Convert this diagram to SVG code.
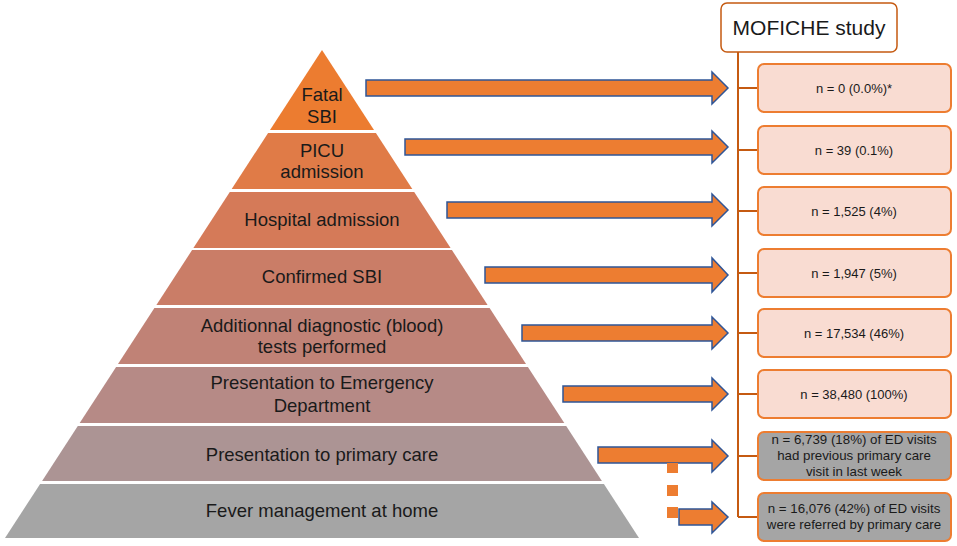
<svg xmlns="http://www.w3.org/2000/svg" width="957" height="546" viewBox="0 0 957 546">
<style>
.pt{font-family:"Liberation Sans",Arial,sans-serif;font-size:18.5px;fill:#1a1a1a;text-anchor:middle}
.bt{font-family:"Liberation Sans",Arial,sans-serif;font-size:13px;fill:#1a1a1a;text-anchor:middle}
.gt{font-family:"Liberation Sans",Arial,sans-serif;font-size:13.3px;fill:#1a1a1a;text-anchor:middle}
.arr{fill:#ED7D31;stroke:#2F5597;stroke-width:1.5;stroke-linejoin:miter}
.box{fill:#F9DCD2;stroke:#ED7D31;stroke-width:2}
.gbox{fill:#A5A5A5;stroke:#ED7D31;stroke-width:2}
.ln{stroke:#C55A11;stroke-width:2;fill:none}
.sq{fill:#ED7D31}
</style>
<rect width="957" height="546" fill="#ffffff"/>
<g id="pyramid">
<g id="l1"><polygon points="322,50 374,130 270,130" fill="#EC7C30"/><text class="pt" x="322" y="101">Fatal</text><text class="pt" x="322" y="123">SBI</text></g>
<g id="l2"><polygon points="268.1,133 375.9,133 412.3,189 231.7,189" fill="#E07B47"/><text class="pt" x="322" y="157">PICU</text><text class="pt" x="322" y="178">admission</text></g>
<g id="l3"><polygon points="229.8,192 414.2,192 450.6,248 193.4,248" fill="#D57A58"/><text class="pt" x="322" y="226">Hospital admission</text></g>
<g id="l4"><polygon points="192.1,250 451.9,250 487.6,305 156.4,305" fill="#CA7D67"/><text class="pt" x="322" y="283">Confirmed SBI</text></g>
<g id="l5"><polygon points="154.4,308 489.6,308 526,364 118,364" fill="#C08276"/><text class="pt" x="322" y="332">Additionnal diagnostic (blood)</text><text class="pt" x="322" y="353">tests performed</text></g>
<g id="l6"><polygon points="116.1,367 527.9,367 564.3,423 79.7,423" fill="#B68A86"/><text class="pt" x="322" y="389">Presentation to Emergency</text><text class="pt" x="322" y="412">Department</text></g>
<g id="l7"><polygon points="77.8,426 566.2,426 601.9,481 42.1,481" fill="#AC9494"/><text class="pt" x="322" y="461">Presentation to primary care</text></g>
<g id="l8"><polygon points="40.1,484 603.9,484 639,538 5,538" fill="#A5A5A5"/><text class="pt" x="322" y="517">Fever management at home</text></g>
</g>
<g id="connectors">
<path class="arr" d="M366,80 H712 V72 L728,88 L712,104 V96 H366 Z"/>
<path class="arr" d="M405,139 H712 V131 L728,147 L712,163 V155 H405 Z"/>
<path class="arr" d="M447,202 H712 V194 L728,210 L712,226 V218 H447 Z"/>
<path class="arr" d="M485,267 H712 V258 L728,275 L712,292 V283 H485 Z"/>
<path class="arr" d="M522,325 H712 V317 L728,333 L712,349 V341 H522 Z"/>
<path class="arr" d="M563,386 H712 V378 L728,394 L712,410 V402 H563 Z"/>
<path class="arr" d="M598,447 H712 V440 L728,456 L712,472 V463 H598 Z"/>
<path class="arr" d="M679,509 H712 V502 L728,517 L712,533 V525 H679 Z"/>
<rect class="sq" x="667" y="463" width="11" height="10"/>
<rect class="sq" x="667" y="485" width="11" height="11"/>
<rect class="sq" x="667" y="507" width="11" height="11"/>
<path class="ln" d="M738,52 V517 M738,88 H758 M738,150 H758 M738,211 H758 M738,273 H758 M738,333 H758 M738,394 H758 M738,456 H758 M738,517 H758"/>
</g>
<g id="moficheBox"><rect x="721" y="3" width="176" height="49" rx="6" fill="#ffffff" stroke="#C55A11" stroke-width="1.5"/><text x="809" y="35" font-family="'Liberation Sans',Arial,sans-serif" font-size="21" fill="#1a1a1a" text-anchor="middle">MOFICHE study</text></g>
<g id="b1"><rect class="box" x="758" y="64" width="193" height="48" rx="6"/><text class="bt" x="854" y="93">n = 0 (0.0%)*</text></g>
<g id="b2"><rect class="box" x="758" y="126" width="193" height="48" rx="6"/><text class="bt" x="854" y="155">n = 39 (0.1%)</text></g>
<g id="b3"><rect class="box" x="758" y="187" width="193" height="48" rx="6"/><text class="bt" x="854" y="216">n = 1,525 (4%)</text></g>
<g id="b4"><rect class="box" x="758" y="249" width="193" height="48" rx="6"/><text class="bt" x="854" y="278">n = 1,947 (5%)</text></g>
<g id="b5"><rect class="box" x="758" y="309" width="193" height="48" rx="6"/><text class="bt" x="854" y="338">n = 17,534 (46%)</text></g>
<g id="b6"><rect class="box" x="758" y="370" width="193" height="48" rx="6"/><text class="bt" x="854" y="399">n = 38,480 (100%)</text></g>
<g id="b7"><rect class="gbox" x="758" y="432" width="193" height="48" rx="6"/><text class="gt" x="854" y="444">n = 6,739 (18%) of ED visits</text><text class="gt" x="854" y="460">had previous primary care</text><text class="gt" x="854" y="476">visit in last week</text></g>
<g id="b8"><rect class="gbox" x="758" y="493" width="193" height="48" rx="6"/><text class="gt" x="854" y="513">n = 16,076 (42%) of ED visits</text><text class="gt" x="854" y="529">were referred by primary care</text></g>
</svg>
